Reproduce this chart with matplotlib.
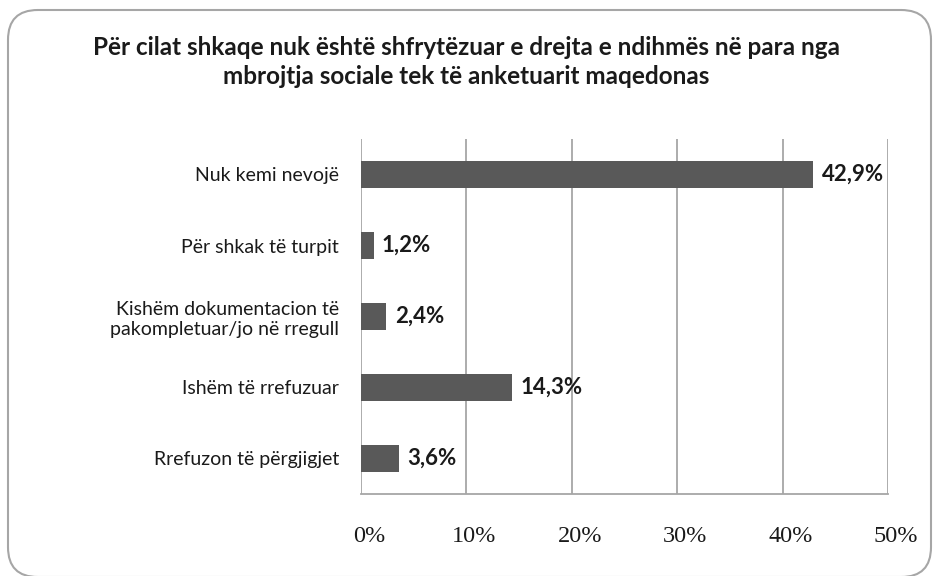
import matplotlib
matplotlib.use("Agg")
import matplotlib.pyplot as plt
from matplotlib.patches import FancyBboxPatch
import matplotlib.transforms as mtransforms
import numpy as np

categories = ["Nuk kemi nevojë", "Për shkak të turpit",
              "Kishëm dokumentacion të\npakompletuar/jo në rregull",
              "Ishëm të rrefuzuar", "Rrefuzon të përgjigjet"]
values = [42.9, 1.2, 2.4, 14.3, 3.6]
value_labels = ["42,9%", "1,2%", "2,4%", "14,3%", "3,6%"]
ticks = [0, 10, 20, 30, 40, 50]
tick_labels = ["0%", "10%", "20%", "30%", "40%", "50%"]
title = "Për cilat shkaqe nuk është shfrytëzuar e drejta e ndihmës në para nga\nmbrojtja sociale tek të anketuarit maqedonas"

W, H = 933, 576
fig = plt.figure(figsize=(W/100, H/100), dpi=100)
fig.patch.set_facecolor("white")

bx0, by0, bx1, by1 = 8, 10, 931, 577
box = FancyBboxPatch((bx0/W, 1-by1/H), (bx1-bx0)/W, (by1-by0)/H,
                     boxstyle="round,pad=0,rounding_size=0.032",
                     transform=fig.transFigure, facecolor="white",
                     edgecolor="#a6a6a6", linewidth=1.5, mutation_aspect=W/H,
                     zorder=-10)
fig.patches.append(box)

left, right, top, bottom = 361, 888, 139, 494
ax = fig.add_axes([left/W, 1-bottom/H, (right-left)/W, (bottom-top)/H])
ax.set_zorder(5)
ax.set_facecolor("none")
y = np.arange(len(categories))
ax.barh(y, values, height=0.39, color="#595959", zorder=3)
ax.set_xlim(0, 50)
ax.set_ylim(len(categories)-0.5, -0.5)
ax.set_xticks(ticks)
ax.set_xticklabels(tick_labels, family="Liberation Serif", fontsize=17.5,
                   color="#1a1a1a")
ax.tick_params(axis="x", length=0, pad=23)
offset = mtransforms.ScaledTranslation(8/100, 0, fig.dpi_scale_trans)
for lbl in ax.get_xticklabels():
    lbl.set_transform(lbl.get_transform() + offset)
ax.set_yticks(y)
ax.set_yticklabels(categories, family="Lato", fontsize=14, linespacing=1.25,
                   color="#1a1a1a")
ax.tick_params(axis="y", length=0, pad=16)
for lbl in ax.get_yticklabels():
    lbl.set_horizontalalignment("right")
ax.grid(axis="x", color="#a6a6a6", linewidth=1.3, zorder=0)
for s in ["top", "right"]:
    ax.spines[s].set_visible(False)
ax.spines["left"].set_visible(False)
ax.spines["bottom"].set_color("#a6a6a6")
ax.spines["bottom"].set_linewidth(1.3)

for yi, v, t in zip(y, values, value_labels):
    ax.annotate(t, (v, yi), xytext=(6, 0), textcoords="offset points",
                va="center", ha="left", fontsize=16, fontweight="bold",
                family="Lato", color="#1a1a1a", zorder=4)

fig.text(0.5, 1-62/H, title, ha="center", va="center", fontsize=17.5,
         fontweight="bold", family="Lato", linespacing=1.3, color="#1a1a1a")

fig.savefig("out.png", dpi=100)
